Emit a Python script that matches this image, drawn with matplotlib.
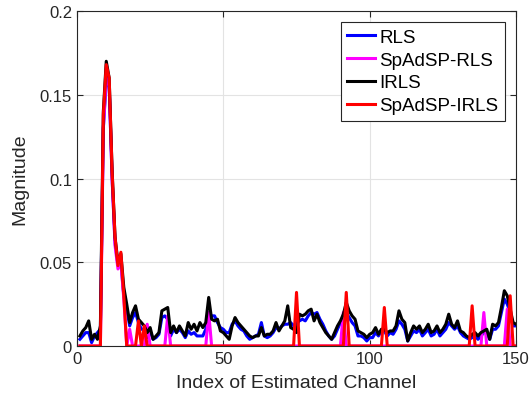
import numpy as np
import matplotlib
matplotlib.use("Agg")
from matplotlib import pyplot as plt

plt.rcParams['font.family'] = ['Liberation Sans', 'DejaVu Sans']

# channel index
n = np.arange(1, 151)

# RLS magnitude
rls = [0.004, 0.006, 0.008, 0.008, 0.002, 0.006, 0.008, 0.010, 0.130, 0.158,
       0.155, 0.100, 0.062, 0.048, 0.050, 0.030, 0.022, 0.012, 0.017, 0.020,
       0.014, 0.010, 0.010, 0.005, 0.009, 0.004, 0.005, 0.007, 0.017, 0.018,
       0.016, 0.006, 0.010, 0.008, 0.010, 0.008, 0.005, 0.009, 0.007, 0.008,
       0.006, 0.006, 0.006, 0.010, 0.020, 0.018, 0.018, 0.014, 0.011, 0.010,
       0.008, 0.008, 0.013, 0.015, 0.012, 0.010, 0.009, 0.006, 0.004, 0.005,
       0.006, 0.007, 0.014, 0.006, 0.005, 0.006, 0.008, 0.011, 0.010, 0.012,
       0.013, 0.013, 0.014, 0.012, 0.014, 0.015, 0.016, 0.015, 0.018, 0.020,
       0.019, 0.020, 0.016, 0.013, 0.009, 0.006, 0.004, 0.006, 0.010, 0.014,
       0.017, 0.020, 0.017, 0.014, 0.012, 0.006, 0.006, 0.005, 0.003, 0.005,
       0.005, 0.008, 0.006, 0.009, 0.009, 0.006, 0.008, 0.007, 0.010, 0.015,
       0.013, 0.010, 0.003, 0.006, 0.009, 0.008, 0.010, 0.006, 0.008, 0.010,
       0.006, 0.007, 0.010, 0.006, 0.008, 0.010, 0.014, 0.012, 0.010, 0.012,
       0.008, 0.006, 0.005, 0.004, 0.005, 0.006, 0.004, 0.006, 0.008, 0.008,
       0.004, 0.010, 0.010, 0.012, 0.020, 0.028, 0.025, 0.020, 0.012, 0.012]

# IRLS magnitude
irls = [0.006, 0.009, 0.011, 0.015, 0.004, 0.007, 0.004, 0.012, 0.140, 0.170,
        0.160, 0.105, 0.065, 0.050, 0.055, 0.035, 0.025, 0.014, 0.020, 0.024,
        0.016, 0.014, 0.012, 0.008, 0.011, 0.004, 0.006, 0.008, 0.021, 0.022,
        0.023, 0.008, 0.012, 0.008, 0.012, 0.009, 0.006, 0.014, 0.010, 0.013,
        0.009, 0.014, 0.011, 0.014, 0.029, 0.016, 0.015, 0.016, 0.009, 0.008,
        0.006, 0.004, 0.012, 0.017, 0.014, 0.012, 0.010, 0.008, 0.006, 0.005,
        0.006, 0.006, 0.011, 0.006, 0.007, 0.007, 0.009, 0.014, 0.009, 0.012,
        0.015, 0.024, 0.011, 0.010, 0.008, 0.019, 0.018, 0.019, 0.021, 0.022,
        0.015, 0.019, 0.014, 0.011, 0.008, 0.006, 0.004, 0.008, 0.012, 0.015,
        0.019, 0.026, 0.021, 0.018, 0.016, 0.009, 0.008, 0.007, 0.005, 0.007,
        0.008, 0.011, 0.007, 0.010, 0.010, 0.008, 0.009, 0.009, 0.012, 0.021,
        0.016, 0.014, 0.003, 0.008, 0.012, 0.010, 0.012, 0.008, 0.010, 0.013,
        0.008, 0.009, 0.012, 0.008, 0.010, 0.013, 0.019, 0.013, 0.011, 0.015,
        0.009, 0.008, 0.006, 0.005, 0.007, 0.008, 0.006, 0.008, 0.009, 0.010,
        0.004, 0.013, 0.012, 0.014, 0.023, 0.033, 0.030, 0.022, 0.014, 0.013]

# sparse estimates: nonzero taps only
sp_rls_idx = [9, 10, 11, 12, 13, 14, 15, 16, 18, 24, 31, 45, 91, 139, 147]
sp_rls_val = [0.130, 0.162, 0.155, 0.100, 0.060, 0.046, 0.050, 0.028,
              0.010, 0.013, 0.018, 0.020, 0.020, 0.020, 0.022]

sp_irls_idx = [9, 10, 11, 12, 13, 14, 15, 16, 21, 23, 75, 92, 105, 135, 148]
sp_irls_val = [0.138, 0.168, 0.160, 0.104, 0.065, 0.048, 0.056, 0.030,
               0.015, 0.012, 0.032, 0.032, 0.023, 0.024, 0.030]

sp_rls = np.zeros(len(n))
sp_rls[np.array(sp_rls_idx) - 1] = sp_rls_val
sp_irls = np.zeros(len(n))
sp_irls[np.array(sp_irls_idx) - 1] = sp_irls_val

fig = plt.figure(figsize=(5.32, 4.06), dpi=100)
ax = fig.add_axes([0.1447, 0.1453, 0.8253, 0.8251])

ax.plot(n, rls, color=(0, 0, 1), lw=2.2, label='RLS')
ax.plot(n, sp_rls, color=(1, 0, 1), lw=2.2, label='SpAdSP-RLS')
ax.plot(n, irls, color='k', lw=2.2, label='IRLS')
ax.plot(n, sp_irls, color=(1, 0, 0), lw=2.2, label='SpAdSP-IRLS')

ax.set_xlim(0, 150)
ax.set_ylim(0, 0.2)
ax.set_xticks([0, 50, 100, 150])
ax.set_yticks([0, 0.05, 0.1, 0.15, 0.2])
ax.set_yticklabels(['0', '0.05', '0.1', '0.15', '0.2'])
ax.grid(True, color='#e3e3e3', lw=0.8)
ax.set_axisbelow(True)
ax.tick_params(direction='in', top=True, right=True, labelsize=12,
               colors='#262626', length=4)
for s in ax.spines.values():
    s.set_color('#262626')
    s.set_linewidth(0.8)

ax.set_xlabel('Index of Estimated Channel', fontsize=14, color='#262626',
              labelpad=6)
ax.set_ylabel('Magnitude', fontsize=14, color='#262626', labelpad=8)

leg = ax.legend(loc='upper right', fontsize=13.5, handlelength=1.5,
                handletextpad=0.2, borderpad=0.35, labelspacing=0.3,
                fancybox=False, framealpha=1, edgecolor='#262626',
                borderaxespad=0.6)
leg.get_frame().set_linewidth(0.8)

fig.savefig('out.png', dpi=100)
